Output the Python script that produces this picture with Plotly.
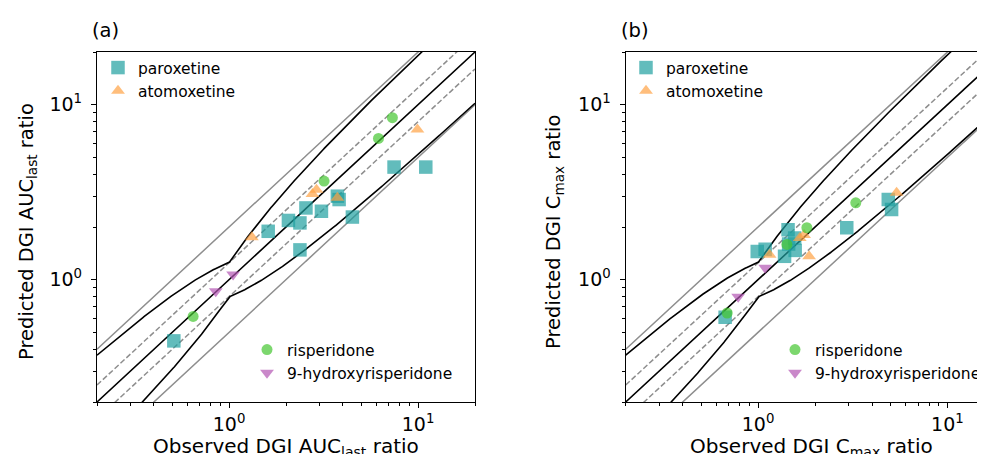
import numpy as np
import plotly.graph_objects as go

# ---------------- data ----------------
# Panel (a): AUClast ratios
parox_a_obs = [0.51, 1.61, 2.06, 2.37, 2.55, 2.37, 3.08, 3.74, 3.82, 4.49, 7.46, 10.98]
parox_a_pred = [0.447, 1.89, 2.18, 2.11, 2.57, 1.48, 2.46, 3.0, 2.87, 2.28, 4.40, 4.40]
atom_a_obs = [1.32, 2.76, 2.90, 3.74, 9.92]
atom_a_pred = [1.75, 3.09, 3.27, 2.94, 7.22]
risp_a_obs = [0.645, 3.18, 6.17, 7.31]
risp_a_pred = [0.617, 3.66, 6.41, 8.43]
oh_a_obs = [0.85, 1.05]
oh_a_pred = [0.858, 1.07]

# Panel (b): Cmax ratios
parox_b_obs = [0.67, 0.99, 1.09, 1.38, 1.44, 1.56, 1.57, 1.45, 2.94, 4.87, 5.07]
parox_b_pred = [0.61, 1.45, 1.49, 1.36, 1.93, 1.73, 1.47, 1.60, 1.98, 2.87, 2.52]
atom_b_obs = [1.15, 1.66, 1.75, 1.86, 5.39]
atom_b_pred = [1.39, 1.73, 1.80, 1.36, 3.14]
risp_b_obs = [0.687, 1.42, 1.81, 3.28]
risp_b_pred = [0.645, 1.59, 1.98, 2.75]
oh_b_obs = [0.785, 1.09]
oh_b_pred = [0.80, 1.17]

series_names = ["paroxetine", "atomoxetine", "risperidone", "9-hydroxyrisperidone"]
tick_vals = [1, 10]
tick_text = ["10<sup>0</sup>", "10<sup>1</sup>"]
minor_vals = [0.2, 0.3, 0.4, 0.5, 0.6, 0.7, 0.8, 0.9, 2, 3, 4, 5, 6, 7, 8, 9, 20]
x_titles = ["Observed DGI AUC<sub>last</sub> ratio", "Observed DGI C<sub>max</sub> ratio"]
y_titles = ["Predicted DGI AUC<sub>last</sub> ratio", "Predicted DGI C<sub>max</sub> ratio"]
panel_labels = ["(a)", "(b)"]

# ---------------- styling ----------------
FONT = "DejaVu Sans"
W, H = 985, 454
colors = ["rgba(32,160,160,0.7)", "rgba(255,162,69,0.7)", "rgba(69,198,48,0.7)", "rgba(180,85,180,0.7)"]
symbols = ["square", "triangle-up", "circle", "triangle-down"]
sizes = [13.5, 12, 11, 12]

# Guest limits + fold lines
delta = 1.25
xs = np.logspace(np.log10(0.2), np.log10(20), 500)
R = np.where(xs >= 1, xs, 1 / xs)
limit = (delta + 2 * (R - 1)) / R

fig = go.Figure()

panels = [
    dict(xa="x", ya="y", data=[(parox_a_obs, parox_a_pred), (atom_a_obs, atom_a_pred),
                               (risp_a_obs, risp_a_pred), (oh_a_obs, oh_a_pred)],
         legends=["legend", "legend", "legend2", "legend2"]),
    dict(xa="x2", ya="y2", data=[(parox_b_obs, parox_b_pred), (atom_b_obs, atom_b_pred),
                                 (risp_b_obs, risp_b_pred), (oh_b_obs, oh_b_pred)],
         legends=["legend3", "legend3", "legend4", "legend4"]),
]

GRAY = "#8e8e8e"
for p in panels:
    line_specs = [
        (xs * 2, dict(color=GRAY, width=1.5)),
        (xs / 2, dict(color=GRAY, width=1.5)),
        (xs * 1.25, dict(color=GRAY, width=1.5, dash="5.5px,2.5px")),
        (xs / 1.25, dict(color=GRAY, width=1.5, dash="5.5px,2.5px")),
        (xs * limit, dict(color="black", width=1.6)),
        (xs / limit, dict(color="black", width=1.6)),
        (xs, dict(color="black", width=1.6)),
    ]
    for yv, ln in line_specs:
        fig.add_trace(go.Scatter(x=xs, y=yv, mode="lines", line=ln, showlegend=False,
                                 hoverinfo="skip", xaxis=p["xa"], yaxis=p["ya"]))
    for i, (ox, py) in enumerate(p["data"]):
        fig.add_trace(go.Scatter(x=ox, y=py, mode="markers", name=series_names[i],
                                 marker=dict(color=colors[i], symbol=symbols[i], size=sizes[i],
                                             line=dict(width=0)),
                                 legend=p["legends"][i], legendgroup=f"{p['xa']}{i}",
                                 xaxis=p["xa"], yaxis=p["ya"]))

ydom = [(H - 394) / H, (H - 44) / H]
xdom_a = [89 / W, 467 / W]
xdom_b = [617.7 / W, 1.0]
xr_a = [np.log10(0.2), np.log10(20)]
xr_b = [np.log10(0.2), 1.2405]
yr = [np.log10(0.2), np.log10(20)]

TICKFONT = dict(family=FONT, size=19, color="black")

def axis_common(mirror):
    return dict(type="log", showgrid=False, zeroline=False,
                showline=True, linecolor="black", linewidth=1.3, mirror=mirror,
                ticks="outside", ticklen=5, tickwidth=1.1, tickcolor="black",
                tickmode="array", tickvals=tick_vals, ticktext=tick_text,
                tickfont=TICKFONT,
                minor=dict(ticks="outside", ticklen=3, tickwidth=1, tickcolor="black",
                           tickmode="array", tickvals=minor_vals, showgrid=False))

xa = axis_common(True); xa.update(domain=xdom_a, range=xr_a, anchor="y")
xb = axis_common(True); xb.update(domain=xdom_b, range=xr_b, anchor="y2")
ya = axis_common(True); ya.update(domain=ydom, range=yr, anchor="x", ticklabelstandoff=5)
yb = axis_common(False); yb.update(domain=ydom, range=yr, anchor="x2", ticklabelstandoff=5)
fig.update_layout(xaxis=xa, yaxis=ya, xaxis2=xb, yaxis2=yb)

leg_common = dict(font=dict(family=FONT, size=15.5, color="black"), bgcolor="rgba(0,0,0,0)",
                  xanchor="left", yanchor="top", tracegroupgap=0, itemclick=False)
fig.update_layout(
    legend=dict(x=90 / W, y=(H - 43) / H, **leg_common),
    legend2=dict(x=239 / W, y=(H - 325) / H, **leg_common),
    legend3=dict(x=618 / W, y=(H - 43) / H, **leg_common),
    legend4=dict(x=767 / W, y=(H - 325) / H, **leg_common),
)

annotations = []
for i, (xc, yc_x) in enumerate([(278, 20), (803, 547)]):
    annotations.append(dict(text=x_titles[i], x=xc / W, y=(H - 438.5) / H, xref="paper", yref="paper",
                            showarrow=False, font=dict(family=FONT, size=20, color="black"),
                            xanchor="center", yanchor="middle"))
    annotations.append(dict(text=y_titles[i], x=yc_x / W, y=(H - 224) / H, xref="paper", yref="paper",
                            showarrow=False, textangle=-90, font=dict(family=FONT, size=19.5, color="black"),
                            xanchor="center", yanchor="middle"))
for lbl, xp in zip(panel_labels, [82, 611]):
    annotations.append(dict(text=lbl, x=xp / W, y=(H - 22) / H, xref="paper", yref="paper",
                            showarrow=False, font=dict(family=FONT, size=19.5, color="black"),
                            xanchor="left", yanchor="middle"))

fig.update_layout(width=W, height=H, margin=dict(l=0, r=0, t=0, b=0),
                  paper_bgcolor="white", plot_bgcolor="white", annotations=annotations,
                  font=dict(family=FONT))

fig.write_html("out.html")
